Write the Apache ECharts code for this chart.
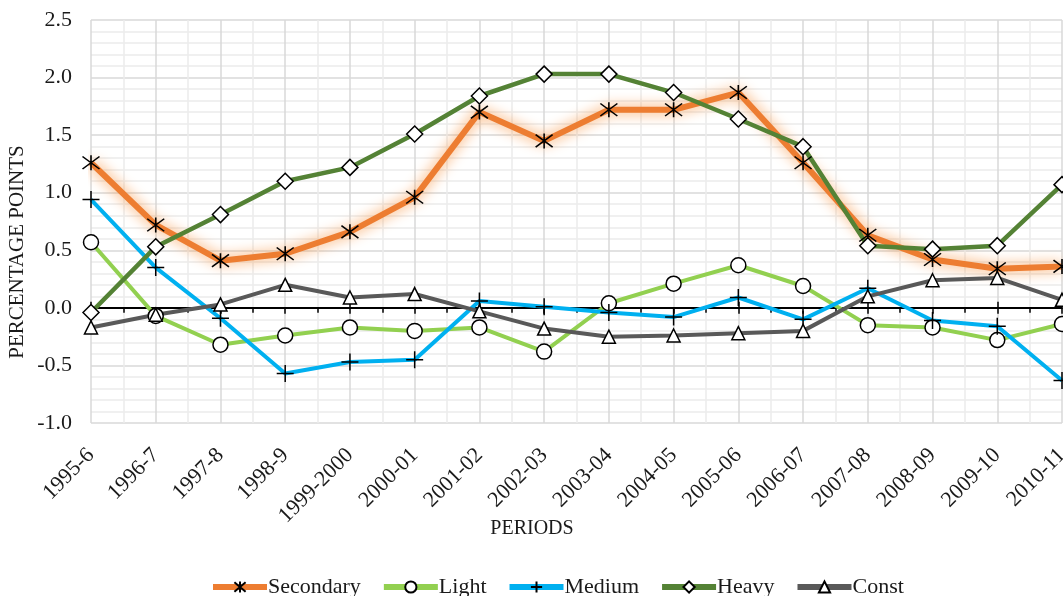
<!DOCTYPE html>
<html>
<head>
<meta charset="utf-8">
<title>Percentage points by period</title>
<script src="https://cdn.jsdelivr.net/npm/echarts@6/dist/echarts.min.js"></script>
<style>
  html, body { margin: 0; padding: 0; background: #fff; }
  #chart { width: 1063px; height: 596px; }
</style>
</head>
<body>
<div id="chart"></div>
<script>
// categories
const periods = ['1995-6', '1996-7', '1997-8', '1998-9', '1999-2000', '2000-01', '2001-02', '2002-03',
  '2003-04', '2004-05', '2005-06', '2006-07', '2007-08', '2008-09', '2009-10', '2010-11'];

// series values (percentage points)
const secondary = [1.26, 0.72, 0.41, 0.47, 0.66, 0.96, 1.70, 1.45, 1.72, 1.72, 1.87, 1.26, 0.63, 0.42, 0.34, 0.36];
const light = [0.57, -0.07, -0.32, -0.24, -0.17, -0.20, -0.17, -0.38, 0.04, 0.21, 0.37, 0.19, -0.15, -0.17, -0.28, -0.14];
const medium = [0.94, 0.35, -0.09, -0.57, -0.47, -0.45, 0.06, 0.01, -0.04, -0.08, 0.09, -0.10, 0.17, -0.11, -0.16, -0.63];
const heavy = [-0.04, 0.53, 0.81, 1.10, 1.22, 1.51, 1.84, 2.03, 2.03, 1.87, 1.64, 1.40, 0.54, 0.51, 0.54, 1.07];
const constr = [-0.17, -0.06, 0.03, 0.20, 0.09, 0.12, -0.03, -0.18, -0.25, -0.24, -0.22, -0.20, 0.10, 0.24, 0.26, 0.07];

const font = 'Liberation Serif';
const textColor = '#1a1a1a';

const asterisk = 'path://M0,0L10,10M10,0L0,10M5,-1L5,11';
const plus = 'path://M5,0L5,10M0,5L10,5';

function makeSeries(name, data, color, symbol, size, extra) {
  return Object.assign({
    name: name,
    type: 'line',
    data: data,
    xAxisIndex: 0,
    yAxisIndex: 0,
    symbol: symbol,
    symbolSize: size,
    showSymbol: true,
    lineStyle: { color: color, width: 4 },
    itemStyle: { color: '#fff', borderColor: '#000', borderWidth: 1.5 },
    emphasis: { disabled: true },
    animation: false,
  }, extra || {});
}

const chart = echarts.init(document.getElementById('chart'));

chart.setOption({
  backgroundColor: '#fff',
  grid: {
    left: 91,
    right: 1,
    top: 20,
    bottom: 173,
    containLabel: false,
    outerBoundsMode: 'none',
  },
  legend: {
    top: 571,
    left: 205,
    itemWidth: 54,
    itemHeight: 14,
    itemGap: 20,
    lineStyle: { width: 6 },
    textStyle: { fontFamily: font, fontSize: 22, color: textColor, padding: [0, 0, 0, -4] },
    data: ['Secondary', 'Light', 'Medium', 'Heavy', 'Const'],
  },
  xAxis: [
    {
      // labels along the bottom of the plot
      type: 'category',
      data: periods,
      boundaryGap: false,
      position: 'bottom',
      axisLine: { show: false, onZero: false },
      axisTick: { show: false },
      splitLine: { show: false },
      axisLabel: {
        interval: 0,
        rotate: 45,
        margin: 29,
        fontFamily: font,
        fontSize: 22,
        color: textColor,
      },
    },
    {
      // black zero line with ticks below
      type: 'category',
      data: periods,
      boundaryGap: false,
      axisLine: { show: true, onZero: true, onZeroAxisIndex: 0, lineStyle: { color: '#000', width: 2 } },
      axisTick: { show: true, length: 6, lineStyle: { color: '#000', width: 1.5 } },
      axisLabel: { show: false },
      splitLine: { show: false },
    },
    {
      // vertical gridlines and the upward ticks on the zero line
      type: 'value',
      min: 0,
      max: periods.length - 1,
      interval: 1,
      axisLine: { show: false, onZero: true, onZeroAxisIndex: 0 },
      axisTick: { show: true, inside: true, length: 6, lineStyle: { color: '#000', width: 1.5 } },
      minorTick: { show: true, splitNumber: 2, length: 5, lineStyle: { color: '#000', width: 1.5 } },
      axisLabel: { show: false },
      splitLine: { show: true, lineStyle: { color: '#d9d9d9', width: 1.5 } },
      minorSplitLine: { show: true, lineStyle: { color: '#ececec', width: 1.5 } },
    },
  ],
  yAxis: {
    type: 'value',
    min: -1,
    max: 2.5,
    interval: 0.5,
    axisLine: { show: false },
    axisTick: { show: false },
    minorTick: { show: false, splitNumber: 5 },
    axisLabel: {
      margin: 19,
      fontFamily: font,
      fontSize: 22,
      color: textColor,
      formatter: (v) => v.toFixed(1),
    },
    splitLine: { show: true, lineStyle: { color: '#d9d9d9', width: 1.5 } },
    minorSplitLine: { show: true, lineStyle: { color: '#ececec', width: 1.5 } },
  },
  graphic: [
    {
      type: 'text',
      x: 17,
      y: 252,
      rotation: Math.PI / 2,
      style: {
        text: 'PERCENTAGE POINTS',
        fontFamily: font,
        fontSize: 21,
        fill: textColor,
        align: 'center',
        verticalAlign: 'middle',
      },
    },
    {
      type: 'text',
      x: 532,
      y: 529,
      style: {
        text: 'PERIODS',
        fontFamily: font,
        fontSize: 20,
        fill: textColor,
        align: 'center',
        verticalAlign: 'middle',
      },
    },
  ],
  series: [
    makeSeries('Secondary', secondary, '#ED7D31', asterisk, [17, 15], {
      lineStyle: {
        color: '#ED7D31',
        width: 6,
        shadowBlur: 14,
        shadowColor: 'rgba(247,150,70,1)',
      },
      itemStyle: { color: 'transparent', borderColor: '#000', borderWidth: 1.5 },
    }),
    makeSeries('Light', light, '#92D050', 'circle', 15),
    makeSeries('Medium', medium, '#00B0F0', plus, 17, {
      itemStyle: { color: 'transparent', borderColor: '#000', borderWidth: 1.5 },
    }),
    makeSeries('Heavy', heavy, '#548235', 'diamond', 16, {
      lineStyle: { color: '#548235', width: 4.5 },
    }),
    makeSeries('Const', constr, '#595959', 'triangle', 13),
  ],
});
</script>
</body>
</html>
